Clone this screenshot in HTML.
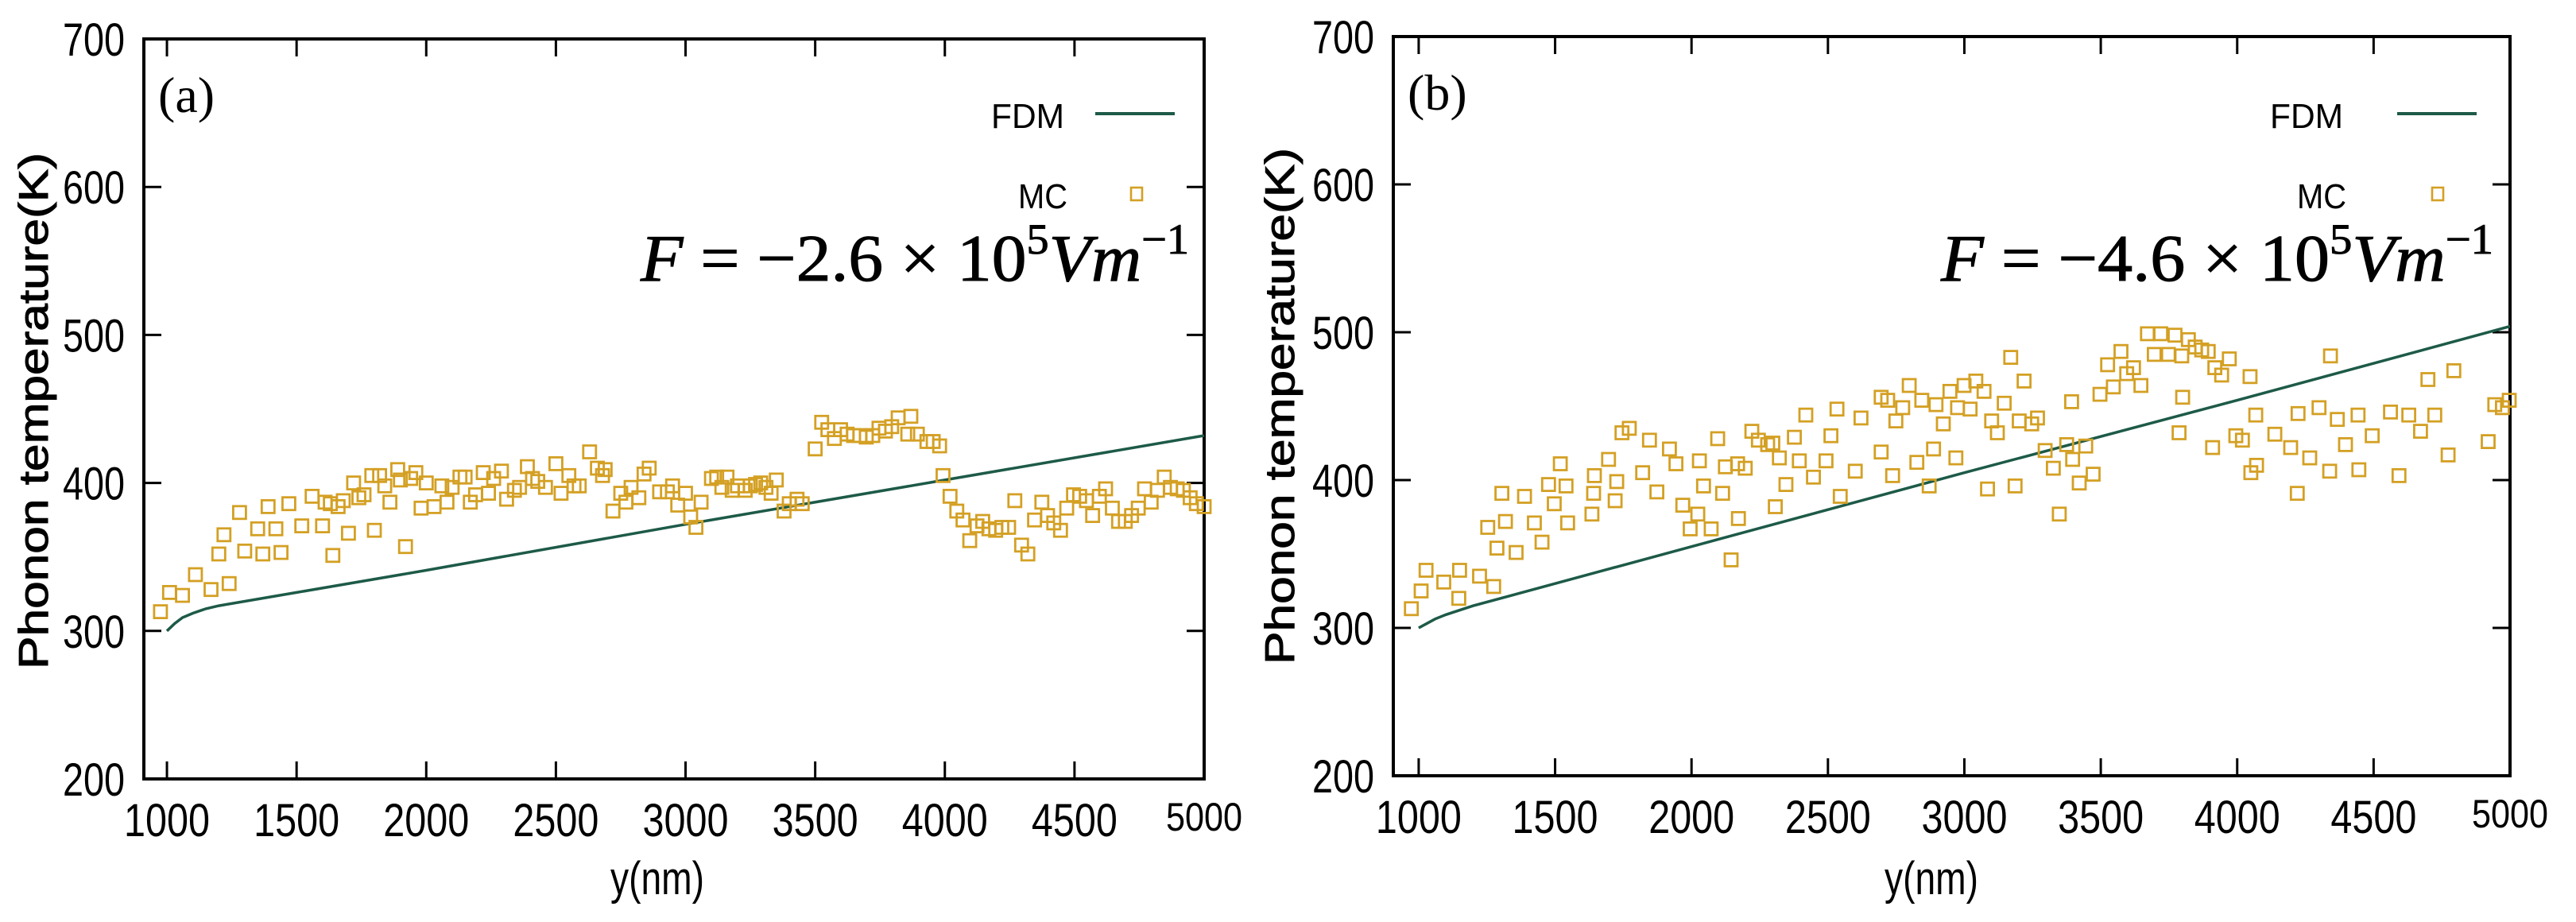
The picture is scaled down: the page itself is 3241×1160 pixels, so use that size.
<!DOCTYPE html>
<html><head><meta charset="utf-8"><style>
html,body{margin:0;padding:0;background:#fff;}
svg{display:block;}
text{font-family:"Liberation Sans",sans-serif;fill:#000;}
.serif{font-family:"Liberation Serif",serif;}
</style></head><body>
<svg id="chart" width="3241" height="1160" viewBox="0 0 3241 1160" xmlns="http://www.w3.org/2000/svg">
<g id="panelA"></g>
<g id="panelB"></g>
</svg>
<script>
const xTicks=[1000,1500,2000,2500,3000,3500,4000,4500,5000];
const yTicks=[200,300,400,500,600,700];
const fdmA_x=[1000,1030,1060,1100,1150,1200,1500,2000,3000,4000,5000];
const fdmA_y=[300,305,309,312,315,317,326,341,372,402,432];
const fdmB_x=[1000,1030,1060,1100,1150,1200,1500,2000,3000,4000,5000];
const fdmB_y=[300,303,306,309,312,315,330,355,405,454,504];
const mcA_x=[975,1010,1060,1110,1170,1200,1220,1240,1280,1300,1350,1370,1390,1420,1440,1470,1520,1560,1600,1610,1630,1640,1660,1680,1700,1720,1740,1760,1790,1800,1820,1840,1860,1890,1900,1920,1940,1960,1980,2000,2030,2060,2080,2100,2130,2150,2170,2190,2220,2240,2260,2290,2310,2340,2360,2390,2410,2430,2460,2500,2520,2550,2570,2590,2630,2660,2680,2690,2720,2750,2770,2790,2820,2840,2860,2900,2930,2950,2970,3000,3020,3040,3060,3100,3120,3140,3160,3180,3200,3230,3250,3270,3290,3310,3330,3350,3380,3400,3430,3450,3500,3525,3549,3574,3598,3623,3648,3672,3697,3722,3746,3771,3795,3820,3857,3869,3894,3931,3955,3980,3993,4020,4046,4070,4096,4124,4146,4170,4196,4220,4246,4270,4296,4320,4346,4374,4396,4420,4446,4470,4496,4520,4546,4570,4596,4620,4646,4670,4696,4720,4746,4770,4796,4820,4846,4870,4896,4920,4946,4970,5000];
const mcA_y=[313,326,324,338,328,352,365,332,380,354,369,352,384,369,353,386,371,391,371,387,386,351,384,388,366,400,390,392,405,368,405,398,387,409,402,357,403,407,383,400,384,398,387,397,404,404,387,392,407,393,403,408,389,395,397,411,403,401,397,413,393,405,398,398,421,410,405,409,381,393,387,397,390,406,410,394,394,398,385,393,377,370,387,403,404,397,404,395,398,395,398,399,400,397,393,402,381,386,389,386,423,441,436,430,436,433,432,432,431,432,437,435,438,444,433,445,433,428,428,425,405,391,381,375,361,371,374,369,368,370,370,388,358,352,375,387,378,373,368,383,392,391,388,378,391,396,383,374,374,378,383,396,387,395,404,397,396,395,390,386,384];
const mcB_x=[973,1009,1027,1092,1147,1150,1223,1253,1275,1287,1318,1305,1357,1388,1424,1452,1476,1497,1519,1540,1546,1635,1641,1644,1720,1726,1696,1745,1772,1821,1846,1873,1919,1943,1968,1995,2023,2029,2044,2072,2096,2114,2124,2145,2172,2169,2197,2221,2245,2279,2298,2307,2322,2346,2377,2395,2419,2447,2493,2511,2533,2545,2600,2621,2695,2695,2719,2737,2749,2774,2798,2826,2844,2871,2887,2896,2923,2947,2969,2975,2999,3021,3042,3072,3085,3100,3121,3146,3170,3186,3201,3219,3247,3268,3296,3326,3348,3375,3393,3397,3421,3445,3472,3497,3525,3546,3574,3595,3620,3647,3671,3696,3720,3748,3772,3797,3787,3800,3821,3846,3870,3894,3910,3918,3943,3971,3995,4019,4047,4050,4068,4071,4138,4196,4220,4223,4266,4300,4339,4342,4367,4397,4443,4446,4495,4562,4593,4629,4672,4699,4724,4773,4794,4920,4944,4972,4997];
const mcB_y=[313,325,339,331,320,339,335,368,328,354,372,391,351,389,371,358,397,384,411,396,371,377,391,403,386,399,414,432,435,405,427,392,421,411,383,367,377,413,396,367,428,391,409,346,374,411,408,433,427,424,425,382,415,397,429,413,444,402,413,430,448,389,406,442,419,456,454,403,440,449,464,412,454,396,421,451,438,460,415,449,464,448,467,460,394,440,432,452,483,396,440,467,438,442,420,408,377,424,453,414,398,423,404,458,478,463,487,472,476,464,499,485,499,485,498,484,432,456,495,490,488,487,422,476,471,482,430,427,470,405,444,410,431,422,391,445,415,449,406,484,441,424,444,407,430,446,403,444,433,468,444,417,474,426,451,449,454];

const NS='http://www.w3.org/2000/svg';
function mk(parent,tag,attrs,txt){const e=document.createElementNS(NS,tag);for(const k in attrs)e.setAttribute(k,attrs[k]);if(txt!==undefined)e.textContent=txt;parent.appendChild(e);return e;}

function drawPanel(g,cfg){
  const L=cfg.left,R=cfg.right,T=cfg.top,B=cfg.bottom;
  const sx=v=>L+(v-cfg.xmin)/(5000-cfg.xmin)*(R-L);
  const sy=v=>B-(v-200)/500*(B-T);
  xTicks.forEach((t,i)=>{
    const x=sx(t);
    const a=mk(g,'line',{x1:x,x2:x,y1:B,y2:B-22,stroke:'#000','stroke-width':3});
    
    
    const b=mk(g,'line',{x1:x,x2:x,y1:T,y2:T+22,stroke:'#000','stroke-width':3});
    
    
    const last=i===xTicks.length-1;
    const s=String(t);
    const lab=mk(g,'text',{x:x,y:last?B+65:B+72,'text-anchor':'middle','font-size':last?50:58,textLength:s.length*(last?24:27),lengthAdjust:'spacingAndGlyphs'},s);
    
    
  });
  yTicks.forEach(t=>{
    const y=sy(t);
    const a=mk(g,'line',{x1:L,x2:L+22,y1:y,y2:y,stroke:'#000','stroke-width':3});
    
    
    const b=mk(g,'line',{x1:R,x2:R-22,y1:y,y2:y,stroke:'#000','stroke-width':3});
    
    
    const s=String(t);
    const lab=mk(g,'text',{x:L-24,y:y+21,'text-anchor':'end','font-size':58,textLength:s.length*26,lengthAdjust:'spacingAndGlyphs'},s);
    
    
  });
  const frame=mk(g,'rect',{x:L,y:T,width:R-L,height:B-T,fill:'none',stroke:'#000','stroke-width':4});
  
  
  let d='';
  cfg.fx.forEach((v,i)=>{d+=(i?'L':'M')+sx(v).toFixed(1)+','+sy(cfg.fy[i]).toFixed(1);});
  const line=mk(g,'path',{d:d,fill:'none',stroke:'#1d5a48','stroke-width':3.5});
  
  
  cfg.mx.forEach((v,i)=>{
    const r=mk(g,'rect',{x:(sx(v)-8).toFixed(1),y:(sy(cfg.my[i])-8).toFixed(1),width:16,height:16,fill:'none',stroke:'#d4a024','stroke-width':2.8});
    
    
  });
  const xt=mk(g,'text',{x:cfg.xtx,y:1125,'text-anchor':'middle','font-size':58,textLength:118,lengthAdjust:'spacingAndGlyphs'},'y(nm)');
  
  
  const yt=mk(g,'text',{x:0,y:0,'text-anchor':'middle','font-size':52,textLength:650,lengthAdjust:'spacingAndGlyphs','stroke':'#000','stroke-width':1,transform:'translate('+cfg.ytx+','+cfg.yty+') rotate(-90)'},'Phonon temperature(K)');
  
  
  const pl=mk(g,'text',{x:L+18,y:T+92,'font-size':64,'class':'serif'},cfg.label);
  
  
  const l1=mk(g,'text',{x:cfg.legX,y:161,'font-size':44,textLength:92,lengthAdjust:'spacingAndGlyphs'},'FDM');
  
  
  const ls=mk(g,'line',{x1:cfg.legLine,x2:cfg.legLine+100,y1:143,y2:143,stroke:'#1d5a48','stroke-width':4});
  
  
  const l2=mk(g,'text',{x:cfg.legX+34,y:262,'font-size':44,textLength:62,lengthAdjust:'spacingAndGlyphs'},'MC');
  
  
  const lm=mk(g,'rect',{x:cfg.legSq-7,y:236,width:14,height:16,fill:'none',stroke:'#d4a024','stroke-width':2.6});
  
  
  const f=mk(g,'text',{x:cfg.fx0,y:353,'font-size':84,'class':'serif','stroke':'#000','stroke-width':1,textLength:cfg.fw,lengthAdjust:'spacingAndGlyphs'});
  
  
  f.innerHTML='<tspan font-style="italic">F</tspan> = −'+cfg.fval+' × 10<tspan dy="-34" font-size="54">5</tspan><tspan dy="34" font-style="italic">Vm</tspan><tspan dy="-34" font-size="54">−1</tspan>';
}

drawPanel(document.getElementById('panelA'),{left:181,right:1515,top:49,bottom:980,xmin:911,
  fx:fdmA_x,fy:fdmA_y,mx:mcA_x,my:mcA_y,xtx:827,ytx:60,yty:517,label:'(a)',
  legX:1247,legLine:1378,legSq:1430,fx0:806,fw:690,fval:'2.6'});
drawPanel(document.getElementById('panelB'),{left:1753,right:3158,top:46,bottom:976,xmin:907,
  fx:fdmB_x,fy:fdmB_y,mx:mcB_x,my:mcB_y,xtx:2430,ytx:1628,yty:511,label:'(b)',
  legX:2856,legLine:3016,legSq:3067,fx0:2442,fw:695,fval:'4.6'});
</script>
</body></html>
